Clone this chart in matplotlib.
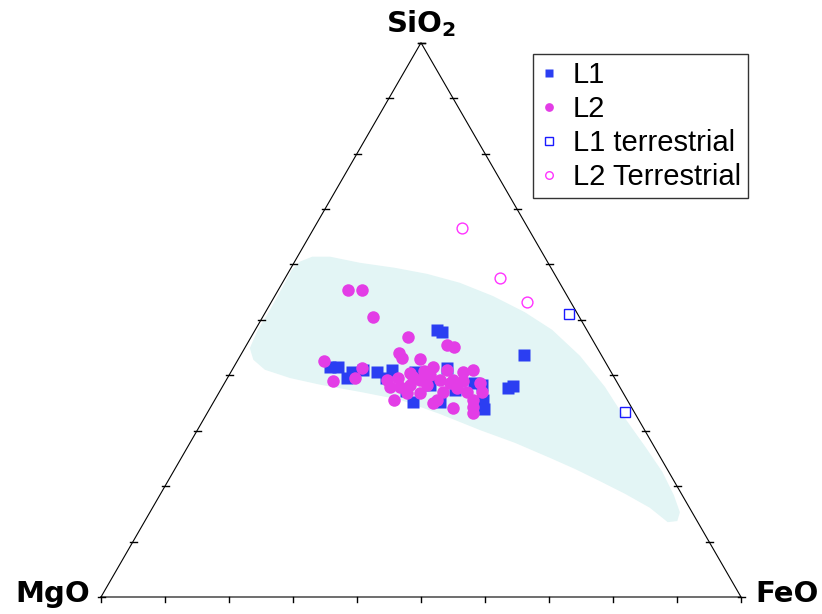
import numpy as np
import matplotlib
matplotlib.use("Agg")
from matplotlib import pyplot as plt

# compositions in wt% (MgO is the remainder)
l1_sio2 = [48.2, 47.8, 43.7, 38.1, 37.7, 38.3, 35.6, 33.9, 35.2, 35.2, 41.5, 41.5,
           39.5, 41.0, 40.6, 41.0, 40.6, 41.3, 39.5, 37.2, 38.6, 40.6, 38.3, 37.4]
l1_feo = [28.4, 29.4, 44.2, 45.3, 44.7, 40.4, 41.9, 42.9, 31.2, 35.4, 15.0, 16.3,
          18.7, 20.4, 22.8, 25.0, 28.8, 33.4, 24.8, 29.1, 39.0, 18.9, 32.3, 36.6]

l2_sio2 = [55.4, 55.4, 50.5, 46.9, 45.5, 45.1, 44.0, 43.1, 43.0, 42.6, 39.0, 41.3,
           39.5, 40.6, 41.0, 39.2, 39.5, 40.4, 41.5, 41.0, 35.6, 34.1, 33.2, 35.6,
           38.6, 37.0, 35.0, 35.6, 38.3, 36.8, 38.3, 36.8, 38.6, 37.7, 37.0, 39.7,
           39.2, 39.2, 39.2, 37.9, 37.9, 37.0, 34.3, 40.1, 39.0, 40.8]
l2_feo = [10.9, 13.1, 17.3, 24.5, 31.3, 32.6, 24.6, 25.5, 28.3, 13.5, 16.8, 20.1,
          19.9, 36.3, 37.6, 25.1, 26.7, 28.1, 31.1, 33.6, 28.0, 38.0, 41.5, 40.3,
          39.9, 41.0, 34.4, 34.7, 29.1, 31.4, 31.8, 29.4, 35.2, 36.8, 38.7, 28.9,
          30.2, 33.4, 35.4, 26.2, 27.8, 34.9, 41.0, 31.4, 37.1, 30.1]

l1t_sio2 = [51.1, 33.4]
l1t_feo = [47.6, 65.2]

l2t_sio2 = [66.6, 57.6, 53.2]
l2t_feo = [23.1, 33.5, 40.0]

# outline of the shaded field
field_sio2 = [60.5, 61.4, 61.4, 60.3, 59.4, 58.3, 56.7, 54.3, 51.4, 48.2, 43.5, 37.9,
              32.3, 27.1, 22.6, 18.4, 15.3, 13.7, 13.5, 16.1, 18.6, 20.9, 23.1, 25.1,
              27.8, 30.1, 33.0, 35.6, 37.0, 38.3, 39.5, 41.0, 42.8, 44.9, 48.2, 51.8,
              56.3, 59.0]
field_feo = [0.8, 2.3, 5.1, 10.3, 16.2, 21.8, 27.7, 34.1, 40.5, 46.4, 53.1, 59.8,
             65.7, 71.5, 76.4, 80.3, 82.8, 83.2, 81.8, 77.7, 72.6, 67.5, 62.5, 57.6,
             50.8, 44.2, 36.5, 28.9, 22.0, 15.1, 9.8, 5.1, 2.4, 0.8, 0.4, 0.5,
             0.4, 0.3]

H = np.sqrt(3) / 2


def tern(sio2, feo):
    '''
        SiO2 / FeO (wt%) -> x, y in a unit triangle (MgO left, FeO right, SiO2 top)
    '''
    s = np.asarray(sio2) / 100.0
    f = np.asarray(feo) / 100.0
    return f + s / 2, s * H


fig = plt.figure(figsize=(8.22, 6.14), dpi=100)
ax = fig.add_axes([0, 0, 1, 1])
ax.set_xlim(-101 / 640, 721 / 640)
ax.set_ylim(-17 / 640, 597 / 640)
ax.axis('off')

# field
fx, fy = tern(field_sio2, field_feo)
ax.fill(fx, fy, color='#e3f5f5', lw=0, zorder=1)

# triangle
ax.plot([0, 1, 0.5, 0], [0, 0, H, 0], color='black', lw=0.8, zorder=2)

# ticks
t = np.linspace(0, 1, 11)
d = 3.5 / 640
for v in t:
    # left side
    x, y = v / 2, v * H
    ax.plot([x - d, x + d], [y, y], color='black', lw=1.0, zorder=2)
    # right side
    x = 1 - v / 2
    ax.plot([x - d, x + d], [y, y], color='black', lw=1.0, zorder=2)
    # bottom
    ax.plot([v, v], [0, -5 / 640], color='black', lw=1.0, zorder=2)

x1, y1 = tern(l1_sio2, l1_feo)
x2, y2 = tern(l2_sio2, l2_feo)
x3, y3 = tern(l1t_sio2, l1t_feo)
x4, y4 = tern(l2t_sio2, l2t_feo)

h1, = ax.plot(x1, y1, 's', ms=8.6, color='#2b3ef2', mec='none', ls='none', label='L1', zorder=3)
h2, = ax.plot(x2, y2, 'o', ms=9.0, color='#e33de6', mec='none', ls='none', label='L2', zorder=4)
h3, = ax.plot(x3, y3, 's', ms=7.8, mfc='none', mec='#1a1aff', mew=1.0, ls='none',
              label='L1 terrestrial', zorder=5)
h4, = ax.plot(x4, y4, 'o', ms=7.8, mfc='none', mec='#ff33ff', mew=1.0, ls='none',
              label='L2 Terrestrial', zorder=5)

# corner labels
lab = dict(fontsize=21, fontweight='bold', family='DejaVu Sans', va='baseline')
ax.text(0.5, 565 / 640, r'SiO$_\mathbf{2}$', ha='center', **lab)
ax.text(-11 / 640, -5 / 640, 'MgO', ha='right', **lab)
ax.text(1 + 14 / 640, -5 / 640, 'FeO', ha='left', **lab)

leg = ax.legend(handles=[h1, h2, h3, h4], loc='upper right',
                bbox_to_anchor=(748 / 822, 1 - 54 / 614), bbox_transform=fig.transFigure,
                prop={'family': 'Liberation Sans', 'size': 21}, markerscale=0.7,
                fancybox=False, framealpha=1, edgecolor='#333333',
                handlelength=0.6, handletextpad=0.5, labelspacing=0.2,
                borderpad=0.25, borderaxespad=0)
leg.get_frame().set_linewidth(1.0)

plt.savefig('out.png', dpi=100)
